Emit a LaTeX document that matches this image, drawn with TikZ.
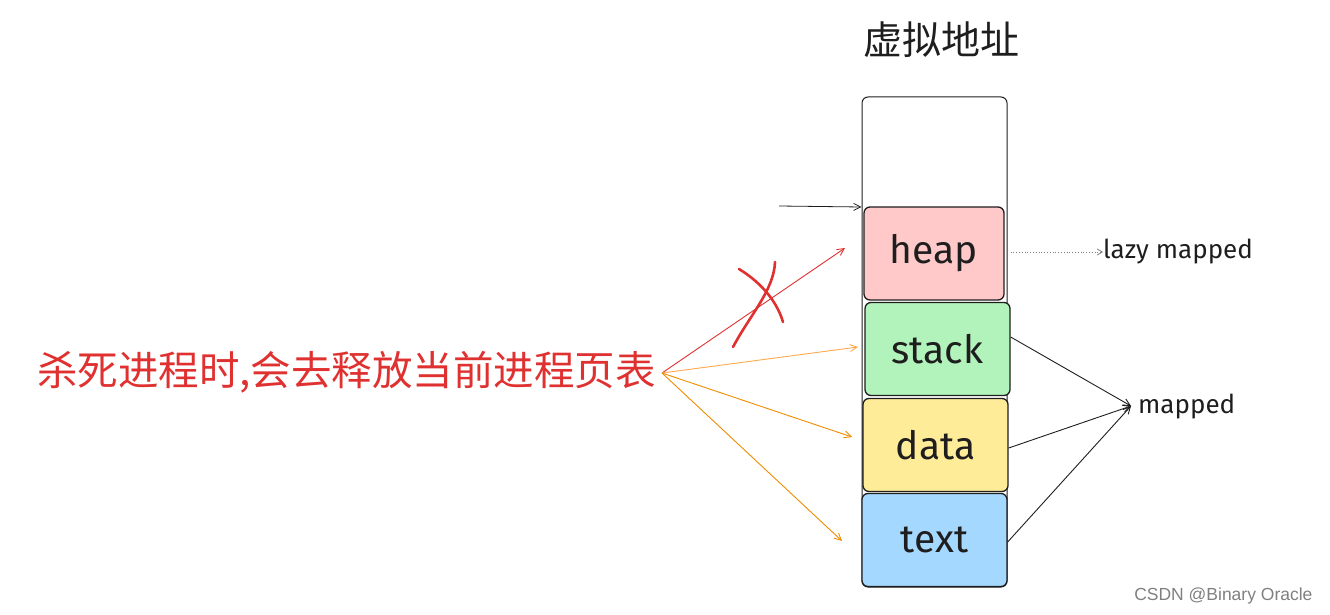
\documentclass[tikz,border=0pt]{standalone}
\usepackage{fontspec}
\setmainfont{Noto Sans CJK SC}
\newfontfamily\hand{Fira Sans}
\newfontfamily\wm{Liberation Sans}
\usetikzlibrary{arrows.meta}
\definecolor{ink}{HTML}{1E1E1E}
\definecolor{redc}{HTML}{E03131}
\definecolor{orl}{HTML}{FFA94D}
\definecolor{ord}{HTML}{F08C00}
\definecolor{pinkf}{HTML}{FFC9C9}
\definecolor{greenf}{HTML}{B2F2BB}
\definecolor{yellowf}{HTML}{FFEC99}
\definecolor{bluef}{HTML}{A5D8FF}
\tikzset{
  seg/.style={draw=ink, line width=1.3pt, rounded corners=6pt, minimum width=140pt, minimum height=93pt, inner sep=0pt, font=\hand\fontsize{39}{41}\selectfont, text=ink},
  arr/.style={-{Straight Barb[length=7pt,width=7pt]}, line width=0.9pt},
  lbl/.style={font=\hand\fontsize{26}{28}\selectfont, text=ink, inner sep=0pt, anchor=west}
}
\begin{document}
\begin{tikzpicture}[x=1pt,y=-1pt]
\useasboundingbox (0,0) rectangle (1330,615);
% title
\node[font=\fontsize{39}{41}\selectfont, text=ink] (title) at (941,40) {虚拟地址};
% outer box
\node[draw=ink, line width=1pt, rounded corners=6pt, minimum width=145pt, minimum height=490pt, inner sep=0pt] (outer) at (934.5,342) {};
% segments
\node[seg, fill=pinkf, minimum width=140pt] (heap) at (934,253.5) {heap};
\node[seg, fill=greenf, minimum width=145pt] (stack) at (937.5,349) {stack};
\node[seg, fill=yellowf, minimum width=145pt] (data) at (935.5,445) {data};
\node[seg, fill=bluef, minimum width=145pt] (text) at (934.5,540) {text};
% left arrow to heap top
\coordinate (lstart) at (779,206);
\draw[arr, draw=ink, line width=0.8pt] (lstart) -- (outer.west |- 0,207);
% red text
\node[font=\fontsize{40.5}{42}\selectfont, text=redc, anchor=east, inner sep=0pt] (kill) at (656,372) {杀死进程时,会去释放当前进程页表};
\coordinate (src) at (662,373);
\coordinate (tHeap) at (845,248);
\coordinate (tStack) at (858,347);
\coordinate (tData) at (852,437);
\coordinate (tText) at (842,541);
\draw[arr, draw=redc] (src) -- (tHeap);
\draw[arr, draw=orl] (src) -- (tStack);
\draw[arr, draw=ord] (src) -- (tData);
\draw[arr, draw=ord] (src) -- (tText);
% red cross
\draw[redc, line width=2.6pt, line cap=round] (739,269) .. controls (765,285) and (778,305) .. (783,322);
\draw[redc, line width=2.6pt, line cap=round] (775,262) .. controls (774,290) and (750,315) .. (733,347);
% lazy mapped
\node[lbl] (lazy) at (1103,252) {lazy mapped};
\draw[-{Straight Barb[length=5pt,width=6pt]}, draw=gray, line width=0.8pt, dotted] (heap.east |- lazy.west) ++(6,0) -- (lazy.west);
% mapped
\node[lbl] (mapped) at (1138,407) {mapped};
\coordinate (mp) at (1131,406);
\draw[arr, draw=ink] (stack.east |- 0,337) -- (mp);
\draw[arr, draw=ink] (data.east |- 0,448) -- (mp);
\draw[arr, draw=ink] (text.east |- 0,542) -- (mp);
% watermark
\node[font=\wm\fontsize{17.5}{19}\selectfont, text=gray, anchor=east] (wmk) at (1316,596) {CSDN @Binary Oracle};
\end{tikzpicture}
\end{document}
